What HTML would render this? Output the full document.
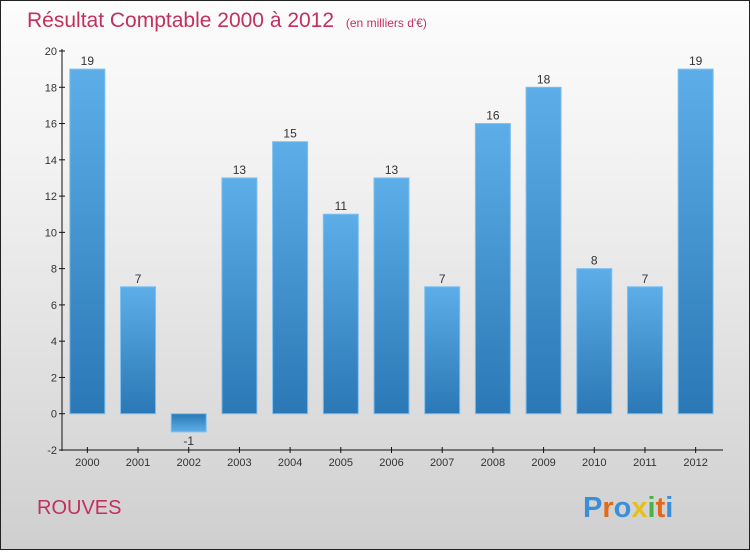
<!DOCTYPE html>
<html><head><meta charset="utf-8"><style>
body{margin:0}
#c{width:748px;height:548px;border:1px solid #222;background:linear-gradient(#fcfcfc,#f2f2f2 30%,#cfcfcf);position:relative;font-family:"Liberation Sans",sans-serif}
</style></head><body>
<div id="c">
<svg id="s" width="748" height="548">
<defs>
<linearGradient id="g" x1="0" y1="0" x2="0" y2="1"><stop offset="0" stop-color="#5daee8"/><stop offset="1" stop-color="#2a78b5"/></linearGradient>
<linearGradient id="gn" x1="0" y1="0" x2="0" y2="1"><stop offset="0" stop-color="#2a78b5"/><stop offset="1" stop-color="#5daee8"/></linearGradient>
</defs>
<text x="26" y="26" font-size="21" fill="#c2305e">Résultat Comptable 2000 à 2012 <tspan font-size="12" dx="6">(en milliers d'€)</tspan></text>
<text x="36" y="513" font-size="20" fill="#c2305e">ROUVES</text>
<text x="582" y="516" font-size="29" font-weight="bold"><tspan fill="#3a8fd8">P</tspan><tspan fill="#e06a1a">r</tspan><tspan fill="#3a8fd8">o</tspan><tspan fill="#e5c01a">x</tspan><tspan fill="#49b04a">i</tspan><tspan fill="#e06a1a">t</tspan><tspan fill="#3a8fd8">i</tspan></text>
</svg>
</div>
<script>
const categories=["2000","2001","2002","2003","2004","2005","2006","2007","2008","2009","2010","2011","2012"];
const values=[19,7,-1,13,15,11,13,7,16,18,8,7,19];
const yTicks=[-2,0,2,4,6,8,10,12,14,16,18,20];
(function(){
const s=document.getElementById('s');const NS='http://www.w3.org/2000/svg';
const yMin=-2,yMax=20,plotTop=50,plotBot=449,plotLeft=61,plotRight=722,bandRight=720;
const y=v=>plotBot-(v-yMin)/(yMax-yMin)*(plotBot-plotTop);
const step=(bandRight-plotLeft)/categories.length;
const xc=i=>plotLeft+step*(i+0.5);
function el(t,a){const e=document.createElementNS(NS,t);for(const k in a)e.setAttribute(k,a[k]);s.appendChild(e);return e;}
let ax=el('line',{x1:plotLeft,y1:plotTop-2,x2:plotLeft,y2:plotBot+1,stroke:'#111'});


let xa=el('line',{x1:plotLeft,y1:plotBot,x2:plotRight,y2:plotBot,stroke:'#111'});


yTicks.forEach(v=>{
 el('line',{x1:plotLeft-3,x2:plotLeft+3,y1:y(v),y2:y(v),stroke:'#111'});
 const t=el('text',{x:plotLeft-5,y:y(v)+4,'font-size':11,fill:'#333','text-anchor':'end'});t.textContent=v;
 
 
});
categories.forEach((c,i)=>{
 const v=values[i],x=xc(i),w=35;
 el('line',{x1:x,x2:x,y1:plotBot-3,y2:plotBot+3,stroke:'#111'});
 const t=el('text',{x:x,y:plotBot+16,'font-size':11,fill:'#333','text-anchor':'middle'});t.textContent=c;
 
 
 const y0=y(0),yv=y(v);
 const r=el('rect',{x:x-w/2,y:Math.min(y0,yv),width:w,height:Math.abs(y0-yv),fill:v<0?'url(#gn)':'url(#g)',stroke:'#7cc0f0','stroke-width':1});
 
 
 const l=el('text',{x:x,y:v<0?yv+13:yv-4,'font-size':12,fill:'#333','text-anchor':'middle'});l.textContent=v;
 
 
});
})();
</script>
</body></html>
